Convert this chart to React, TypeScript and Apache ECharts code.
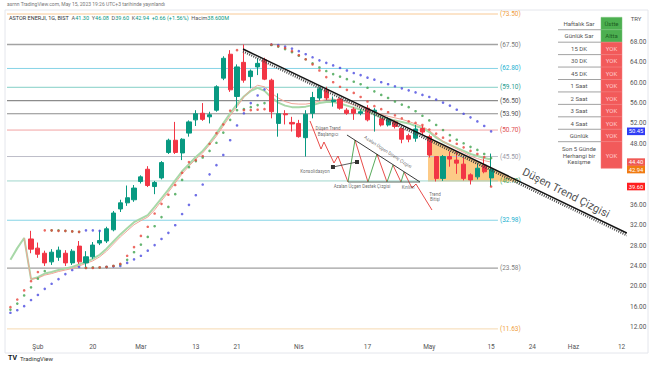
import React, { useEffect, useRef } from "react";
import * as echarts from "echarts";

// ---------- DATA ----------
const dates = [
  "2023-01-26", "2023-01-27", "2023-01-30", "2023-01-31",
  "2023-02-01", "2023-02-02", "2023-02-03", "2023-02-06", "2023-02-07",
  "2023-02-15", "2023-02-16", "2023-02-17", "2023-02-20", "2023-02-21", "2023-02-22",
  "2023-02-23", "2023-02-24", "2023-02-27", "2023-02-28",
  "2023-03-01", "2023-03-02", "2023-03-03", "2023-03-06", "2023-03-07", "2023-03-08",
  "2023-03-09", "2023-03-10", "2023-03-13", "2023-03-14", "2023-03-15", "2023-03-16",
  "2023-03-17", "2023-03-20", "2023-03-21", "2023-03-22", "2023-03-23", "2023-03-24",
  "2023-03-27", "2023-03-28", "2023-03-29", "2023-03-30", "2023-03-31",
  "2023-04-03", "2023-04-04", "2023-04-05", "2023-04-06", "2023-04-07", "2023-04-10",
  "2023-04-11", "2023-04-12", "2023-04-13", "2023-04-14", "2023-04-17", "2023-04-18",
  "2023-04-19", "2023-04-20", "2023-04-24", "2023-04-25", "2023-04-26", "2023-04-27",
  "2023-04-28",
  "2023-05-02", "2023-05-03", "2023-05-04", "2023-05-05", "2023-05-08", "2023-05-09",
  "2023-05-10", "2023-05-11", "2023-05-12", "2023-05-15", "2023-05-16", "2023-05-17",
  "2023-05-18", "2023-05-22", "2023-05-23", "2023-05-24", "2023-05-25", "2023-05-26",
  "2023-05-29", "2023-05-30", "2023-05-31",
  "2023-06-01", "2023-06-02", "2023-06-05", "2023-06-06", "2023-06-07", "2023-06-08",
  "2023-06-09", "2023-06-12",
];
const tickDates = [
  "2023-02-01", "2023-02-20", "2023-03-01", "2023-03-13", "2023-03-21", "2023-04-03",
  "2023-04-17", "2023-05-02", "2023-05-15", "2023-05-24", "2023-06-01", "2023-06-12",
];
const tickTexts = ["Şub", "20", "Mar", "13", "21", "Nis", "17", "May", "15", "24", "Haz", "12"];

const FIRST_CANDLE = 3;
const opens = [
  29.3, 27.5, 26.5, 24.8, 25.7, 26.5, 24.6, 27.9, 24.6, 25.8,
  28.5, 28.9, 31.1, 35.2, 36.4, 37.0, 40.6, 43.0, 39.6, 41.3,
  46.3, 48.7, 46.2, 50.1, 52.7, 54.0, 53.3, 54.6, 60.9, 65.6,
  57.3, 64.0, 61.2, 63.1, 64.5, 60.5, 52.0, 53.9, 52.2, 52.0,
  49.2, 54.0, 57.0, 58.6, 56.3, 56.8, 54.6, 54.8, 54.0, 55.0,
  54.3, 52.9, 51.7, 52.3, 51.0, 49.6, 49.1, 51.0, 49.4, 45.5,
  41.2, 45.5, 44.8, 44.0, 41.9, 41.5, 43.8, 41.3,
];
const closes = [
  27.3, 26.3, 24.6, 26.7, 27.1, 24.6, 26.9, 24.8, 25.8, 28.1,
  29.0, 31.3, 34.4, 36.4, 37.4, 39.3, 41.5, 39.8, 40.4, 44.3,
  48.7, 46.3, 48.9, 52.3, 53.9, 52.8, 53.7, 59.2, 64.8, 58.6,
  63.1, 60.5, 62.3, 63.8, 60.7, 54.3, 53.9, 53.7, 51.9, 49.4,
  53.8, 57.1, 58.8, 57.0, 56.6, 55.0, 54.0, 54.0, 54.3, 52.7,
  54.6, 51.7, 52.8, 51.4, 48.9, 48.9, 50.9, 50.3, 45.8, 41.2,
  45.5, 45.0, 44.2, 41.2, 40.9, 43.2, 42.5, 42.94,
];
const lows = [
  26.5, 25.6, 24.0, 24.2, 25.0, 24.0, 24.2, 24.4, 23.8, 25.4,
  28.1, 28.5, 30.8, 34.6, 35.8, 36.6, 40.2, 39.5, 38.1, 41.0,
  46.0, 46.0, 44.8, 49.4, 51.5, 52.5, 52.0, 54.3, 60.5, 58.2,
  55.0, 60.0, 58.9, 61.5, 60.5, 53.0, 49.4, 51.8, 50.4, 49.2,
  45.5, 53.0, 56.5, 56.6, 55.3, 54.7, 53.7, 52.7, 53.6, 52.4,
  50.4, 51.4, 51.4, 51.0, 48.1, 48.3, 48.4, 49.8, 45.3, 40.6,
  40.7, 43.5, 42.1, 40.8, 40.0, 41.0, 42.2, 39.6,
];
const highs = [
  30.9, 28.6, 27.0, 27.3, 27.8, 27.1, 27.3, 28.9, 26.9, 28.7,
  31.0, 31.7, 34.8, 37.0, 39.8, 39.9, 41.8, 43.6, 40.7, 44.6,
  49.0, 52.3, 49.1, 52.6, 54.6, 56.0, 54.3, 59.5, 65.2, 66.4,
  63.6, 67.5, 62.6, 64.8, 64.9, 60.8, 57.9, 54.6, 53.3, 52.7,
  54.6, 58.2, 59.2, 59.2, 57.3, 57.1, 55.0, 55.2, 54.8, 55.6,
  55.0, 53.2, 53.2, 52.6, 51.2, 50.0, 51.7, 51.6, 49.8, 45.6,
  45.8, 46.5, 46.5, 45.5, 42.2, 44.2, 45.1, 46.08,
];

const maGreen = [
  25.2, 27.5, 29.5, 21.4, 21.8, 22.5, 22.8, 23.2, 23.5, 23.8,
  24.3, 24.8, 25.4, 26.2, 27.4, 28.8, 30.2, 31.4, 32.6, 33.3,
  34.0, 35.6, 37.3, 39.0, 40.8, 42.6, 44.0, 45.4, 46.6, 48.2,
  50.0, 52.0, 54.0, 55.8, 57.3, 58.4, 59.0, 58.4, 57.1, 56.1,
  55.5, 55.2, 55.2, 55.3, 55.6, 56.0, 56.2, 56.2, 55.9, 55.5,
  55.1, 54.7, 54.3, 53.8, 53.2, 52.9, 52.6, 52.3, 52.0, 51.5,
  51.1, 50.3, 49.2, 48.4, 47.8, 47.2, 46.6, 46.0, 45.6, 45.2, 44.9,
];
const maSalmon = [
  null, null, 29.5, 21.4, 21.6, 22.2, 22.5, 22.9, 23.2, 23.5,
  24.0, 24.5, 25.0, 25.8, 26.9, 28.3, 29.7, 30.9, 32.1, 32.9,
  33.6, 35.0, 36.8, 38.5, 40.3, 42.1, 43.6, 45.0, 46.2, 47.8,
  49.5, 51.5, 53.5, 55.3, 57.2, 58.6, 59.5, 59.2, 58.0, 57.0,
  56.3, 55.9, 55.8, 55.8, 56.0, 56.4, 56.7, 56.8, 56.5, 56.1,
  55.7, 55.3, 54.9, 54.4, 53.8, 53.4, 53.1, 52.8, 52.4, 51.9,
  51.4, 50.6, 49.5, 48.5, 47.7, 47.0, 46.3, 45.6, 45.1, 44.7, 44.4,
];

const sarBlue = [
  14.8, 15.3, 16.1, 17.3, 18.3, 19.5, 20.5, 21.4, 22.4, 23.2,
  23.8, 31.0, 31.0, 30.9, 23.8, 23.9, 24.0, 24.6, 25.3, 26.0,
  27.0, 28.1, 29.3, 30.5, 32.0, 34.2, 36.0, 37.9, 40.0, 42.0,
  43.8, 45.8, 48.7, 51.6, 54.0, 56.0, 57.5, 58.7, 67.5, 67.4,
  67.1, 66.7, 66.2, 65.6, 65.0, 64.4, 63.9, 63.4, 62.9, 62.4,
  61.9, 61.5, 61.0, 60.6, 60.1, 59.7, 59.3, 58.9, 58.5, 58.1,
  57.6, 57.2, 56.7, 56.1, 55.5, 54.7, 53.9, 53.2, 52.4, 51.5, 50.45,
];
const sarGreen = [
  15.4, 16.6, 18.2, 19.8, 21.5, 23.0, 31.0, 31.0, 30.9, 30.8,
  30.7, 23.6, 23.7, 23.7, 23.8, 24.0, 24.3, 25.2, 26.7, 28.2,
  29.7, 31.8, 33.6, 35.6, 38.1, 40.9, 43.4, 44.6, 45.3, 46.6,
  48.2, 50.2, 52.7, 54.6, 54.8, 55.2, 55.6, 56.0, 67.4, 67.1,
  66.6, 66.0, 65.3, 64.6, 63.8, 63.0, 62.3, 61.7, 61.2, 60.7,
  60.2, 59.7, 59.0, 58.3, 57.6, 57.0, 56.3, 55.7, 55.2, 54.4,
  53.5, 52.6, 51.7, 50.7, 49.7, 48.8, 48.1, 47.4, 46.8, 46.0, 45.2,
];
const sarRed = [
  15.9, 17.4, 19.2, 21.0, 22.8, 31.0, 31.0, 30.9, 30.9, 30.8,
  30.7, 23.6, 23.6, 23.7, 23.8, 24.0, 24.4, 26.0, 27.7, 29.9,
  31.7, 34.3, 36.2, 38.0, 39.9, 42.3, 44.4, 44.8, 45.6, 48.0,
  50.1, 51.8, 54.5, 66.4, 54.6, 54.6, 54.7, 54.8, 67.5, 67.2,
  66.8, 66.2, 65.4, 64.6, 63.6, 62.4, 61.1, 60.1, 59.2, 58.6,
  58.0, 57.2, 56.3, 55.4, 54.8, 54.2, 53.6, 53.0, 52.4, 52.1,
  51.7, 50.8, 50.0, 49.2, 48.6, 48.0, 47.3, 46.6, 46.0, 45.4, 39.6,
];

const levelValues = [73.5, 67.5, 62.8, 59.1, 56.5, 53.9, 50.7, 45.5, 40.7, 32.98, 23.58, 11.63];
const levelLabels = ["(73.50)", "(67.50)", "(62.80)", "(59.10)", "(56.50)", "(53.90)", "(50.70)", "(45.50)", "(40.70)", "(32.98)", "(23.58)", "(11.63)"];
const levelEndIndex = 71.0;

const yTickHidden = [44, 40];
const tagValues = [50.45, 44.4, 42.94, 39.6];

const trendLine = [[33.87, 66.62], [89.79, 30.47]];
const orangeZone = [[60.81, 49.3], [74.2, 40.6], [60.81, 40.6]];

const redPaths = [
  [[43.63, 52.48], [45.23, 46.97], [45.66, 48.35], [47.12, 44.23], [47.7, 45.6], [49.16, 40.49]],
  [[50.18, 48.74], [52.07, 40.49]],
  [[53.38, 45.99], [54.84, 40.49]],
  [[55.71, 43.83], [56.88, 40.49]],
  [[57.32, 42.45], [58.48, 39.31], [59.06, 40.1], [61.39, 34.99]],
];
const greenPaths = [
  [[49.16, 40.49], [50.18, 48.74]],
  [[52.07, 40.49], [53.38, 45.99]],
  [[54.84, 40.49], [55.71, 43.83]],
  [[56.88, 40.49], [57.32, 42.45]],
];
const triangleTop = [[49.01, 49.73], [59.65, 40.49]];
const triangleBase = [[49.16, 40.49], [59.65, 40.49]];
const arrowPath = [[46.97, 43.44], [50.47, 44.42]];

const noteTexts = [
  "Düşen Trend", "Başlangıcı", "Konsolidasyon", "Azalan Üçgen Destek Çizgisi",
  "Kırılım", "Trend", "Bitişi", "Azalan Üçgen Direnç Çizgisi", "Düşen Trend Çizgisi",
];
const notePoints = [
  [46.25, 51.1], [46.25, 49.92], [44.35, 42.65], [51.2, 39.7],
  [57.9, 39.5], [61.83, 38.13], [61.83, 37.15], [54.98, 46.38], [80.91, 38.33],
];

const tableLabels = [
  "Haftalık Sar", "Günlük Sar", "15 DK", "30 DK", "45 DK", "1 Saat", "2 Saat",
  "3 Saat", "4 Saat", "Günlük", "Son 5 Günde\nHerhangi bir\nKesişme",
];
const tableValues = ["Üstte", "Altta", "YOK", "YOK", "YOK", "YOK", "YOK", "YOK", "YOK", "YOK", "YOK"];
const tablePositive = [true, true, false, false, false, false, false, false, false, false, false];

// ---------- STYLES ----------
const FONT = "Roboto, 'Noto Sans', sans-serif";
const levelLineColors = ["#f8c995", "#a3a3a3", "#86d4e6", "#84cfc6", "#8c8c8c", "#8c8c8c", "#f2a3a3", "#bdbdc9", "#9fd6cc", "#86d4e6", "#a0a0a0", "#f6d9b0"];
const levelTextColors = ["#f0a040", "#7a7a7a", "#22b0d0", "#2a9d8f", "#555555", "#555555", "#e05050", "#9a9aa8", "#3aa15b", "#22b0d0", "#808080", "#f0a040"];
const levelWidths = [1, 1.5, 1, 1, 1.2, 1.2, 1, 1, 1, 1, 1.2, 1];
const tagColors = ["#2f3df5", "#f05a55", "#f07b12", "#ff1f1f"];
const noteSizes = [4.5, 4.5, 4.5, 4.5, 4.5, 4.5, 4.5, 4.5, 11];
const noteRotations = [0, 0, 0, 0, 0, 0, 0, -33, -27];
const noteColors = ["#444", "#444", "#444", "#444", "#444", "#444", "#444", "#444", "#222"];

export default function App() {
  const ref = useRef<HTMLDivElement>(null);

  useEffect(() => {
    if (!ref.current) return;
    const chart = echarts.init(ref.current, null, { renderer: "svg" });

    const candleData = dates.map((_, i) => {
      const k = i - FIRST_CANDLE;
      return k >= 0 && k < opens.length ? [opens[k], closes[k], lows[k], highs[k]] : "-";
    });
    const dotSeries = (vals: number[], color: string) => ({
      type: "scatter",
      xAxisIndex: 0,
      yAxisIndex: 0,
      symbolSize: 2.6,
      itemStyle: { color },
      data: vals.map((v, i) => [i, v]),
      z: 4,
      silent: true,
    });
    const pathSeries = (pts: number[][], color: string, width: number, extra: any = {}) => ({
      type: "line",
      xAxisIndex: 1,
      yAxisIndex: 0,
      data: pts,
      symbol: "none",
      lineStyle: { color, width },
      clip: false,
      silent: true,
      z: 5,
      ...extra,
    });

    const series: any[] = [];
    series.push({
      type: "custom",
      xAxisIndex: 1,
      yAxisIndex: 0,
      z: 1,
      silent: true,
      clip: false,
      data: [orangeZone[0]],
      renderItem: (_p: any, api: any) => ({
        type: "polygon",
        shape: { points: orangeZone.map((p) => api.coord(p)) },
        style: { fill: "rgba(252,170,60,0.62)" },
      }),
    });
    levelValues.forEach((v, k) => {
      series.push({
        type: "line",
        xAxisIndex: 1,
        yAxisIndex: 0,
        data: [[-0.5, v], [levelEndIndex, v]],
        symbol: "none",
        silent: true,
        z: 1,
        lineStyle: { color: levelLineColors[k], width: levelWidths[k] },
        endLabel: {
          show: true,
          formatter: levelLabels[k],
          color: levelTextColors[k],
          fontSize: 6.5,
          fontFamily: FONT,
          distance: 2,
        },
      });
    });
    series.push({
      type: "line",
      data: maGreen,
      symbol: "none",
      lineStyle: { color: "#a8d8a8", width: 2 },
      z: 2,
      silent: true,
      connectNulls: false,
    });
    series.push({
      type: "line",
      data: maSalmon,
      symbol: "none",
      lineStyle: { color: "#f0a596", width: 1 },
      z: 2,
      silent: true,
      connectNulls: false,
    });
    series.push({
      type: "candlestick",
      data: candleData,
      barWidth: 4.6,
      z: 3,
      silent: true,
      itemStyle: {
        color: "#089981",
        color0: "#f23645",
        borderColor: "#089981",
        borderColor0: "#f23645",
        borderWidth: 1,
      },
    });
    series.push(dotSeries(sarBlue, "#4b4be0"));
    series.push(dotSeries(sarGreen, "#3fa34d"));
    series.push(dotSeries(sarRed, "#e8453c"));

    // trend line with hatched shadow
    series.push(pathSeries(trendLine.map((p) => [p[0], p[1] - 0.45]), "#444", 2.4, { lineStyle: { color: "#444", width: 2.4, type: [1, 1.3] } }));
    series.push(pathSeries(trendLine, "#111", 1.5));
    // pattern drawing
    redPaths.forEach((p) => series.push(pathSeries(p, "#e53935", 0.9)));
    greenPaths.forEach((p) => series.push(pathSeries(p, "#43a047", 0.9)));
    series.push(pathSeries(triangleTop, "#222", 0.9));
    series.push(pathSeries(triangleBase, "#4d5d52", 0.9));
    series.push(pathSeries(arrowPath, "#333", 0.8, { symbol: ["none", "arrow"], symbolSize: 4, itemStyle: { color: "#333" } }));

    series.push({
      type: "scatter",
      xAxisIndex: 1,
      yAxisIndex: 0,
      symbolSize: 0.1,
      itemStyle: { color: "rgba(0,0,0,0)" },
      silent: true,
      z: 6,
      data: noteTexts.map((t, k) => ({
        name: t,
        value: notePoints[k],
        label: {
          show: true,
          position: "inside",
          formatter: "{b}",
          rotate: noteRotations[k],
          fontSize: noteSizes[k],
          color: noteColors[k],
          fontFamily: FONT,
        },
      })),
    });

    chart.setOption({
      animation: false,
      backgroundColor: "#ffffff",
      grid: { left: 7, top: 1.28, width: 618, height: 346.1 },
      xAxis: [
        {
          type: "category",
          data: dates,
          boundaryGap: true,
          offset: -10,
          axisLine: { show: false },
          axisTick: { show: false },
          splitLine: { show: false },
          axisLabel: {
            interval: (_i: number, v: string) => tickDates.includes(v),
            formatter: (v: string) => tickTexts[tickDates.indexOf(v)] ?? "",
            color: "#555",
            fontSize: 6.5,
            fontFamily: FONT,
            margin: 6,
            hideOverlap: false,
          },
        },
        { type: "value", min: -0.5, max: 89.5, show: false },
      ],
      yAxis: {
        type: "value",
        position: "right",
        min: 8,
        max: 76,
        interval: 4,
        axisLine: { show: false },
        axisTick: { show: false },
        splitLine: { show: false },
        axisLabel: {
          margin: 5,
          color: "#555",
          fontSize: 6.5,
          fontFamily: FONT,
          formatter: (v: number) =>
            v >= 12 && v <= 68 && !yTickHidden.includes(v) ? v.toFixed(2) : "",
        },
      },
      series,
    });

    // ---------- graphics ----------
    const g: any[] = [];
    g.push({
      type: "rect",
      shape: { x: 5, y: 10, width: 643, height: 343 },
      style: { fill: "none", stroke: "#e4e6ec", lineWidth: 1 },
      silent: true,
    });
    g.push({
      type: "text",
      x: 7,
      y: 4,
      style: {
        text: "asrnn TradingView.com, May 15, 2023 19:26 UTC+3 tarihinde yayınlandı",
        fill: "#777",
        fontSize: 5,
        fontFamily: FONT,
        verticalAlign: "middle",
      },
    });
    g.push({
      type: "text",
      x: 9,
      y: 18,
      style: {
        text:
          "{n|ASTOR ENERJI, 1G, BIST}  {l|A}{v|41.30}  {l|Y}{v|46.08}  {l|D}{v|39.60}  {l|K}{v|42.94}  {v|+0.66 (+1.56%)}  {l|Hacim}{v|38.600M}",
        fontSize: 5.5,
        fontFamily: FONT,
        verticalAlign: "middle",
        rich: {
          n: { fill: "#333", fontSize: 5.5, fontFamily: FONT },
          l: { fill: "#555", fontSize: 5.5, fontFamily: FONT },
          v: { fill: "#089981", fontSize: 5.5, fontFamily: FONT },
        },
      },
    });
    g.push({
      type: "text",
      x: 636,
      y: 18,
      style: { text: "TRY", fill: "#555", fontSize: 6, fontFamily: FONT, align: "center", verticalAlign: "middle" },
    });
    g.push({
      type: "text",
      x: 8,
      y: 358,
      style: { text: "TV", fill: "#131722", fontSize: 7, fontWeight: "bold", fontFamily: FONT, verticalAlign: "middle" },
    });
    g.push({
      type: "text",
      x: 20,
      y: 358,
      style: { text: "TradingView", fill: "#333", fontSize: 6, fontFamily: FONT, verticalAlign: "middle" },
    });

    // table
    const colL = 558, colLW = 42, colV = 601, colVW = 21;
    const rowTop = 17.3, rowH = 12.44, lastRowH = 26.6;
    tableLabels.forEach((lab, r) => {
      const y = rowTop + r * rowH;
      const h = r === tableLabels.length - 1 ? lastRowH : rowH;
      const pos = tablePositive[r];
      g.push({
        type: "rect",
        shape: { x: colV, y, width: colVW, height: h },
        style: { fill: pos ? "#4caf50" : "#f25a5a", stroke: pos ? "#74c277" : "#f47c7c", lineWidth: 0.5 },
      });
      g.push({
        type: "text",
        x: colL + colLW / 2,
        y: y + h / 2,
        style: { text: lab, fill: "#555", fontSize: 6, fontFamily: FONT, align: "center", verticalAlign: "middle", lineHeight: 6.5 },
      });
      g.push({
        type: "text",
        x: colV + colVW / 2,
        y: y + h / 2,
        style: { text: tableValues[r], fill: pos ? "#1d5e22" : "#ffcfcf", fontSize: 6, fontFamily: FONT, align: "center", verticalAlign: "middle" },
      });
      if (r < tableLabels.length - 1) {
        g.push({
          type: "line",
          shape: { x1: colL, y1: y + h, x2: colV, y2: y + h },
          style: { stroke: "#8a8a8a", lineWidth: 0.8 },
        });
      }
    });

    // price tags on the axis
    tagValues.forEach((t, k) => {
      const py = chart.convertToPixel({ yAxisIndex: 0 }, t) as number;
      g.push({
        type: "rect",
        shape: { x: 627, y: py - 3.8, width: 18, height: 7.6 },
        style: { fill: tagColors[k] },
      });
      g.push({
        type: "text",
        x: 636,
        y: py,
        style: { text: t.toFixed(2), fill: "#fff", fontSize: 5.8, fontFamily: FONT, align: "center", verticalAlign: "middle" },
      });
    });

    chart.setOption({ graphic: g });

    return () => chart.dispose();
  }, []);

  return (
    <div
      ref={ref}
      style={{ position: "fixed", left: 0, top: 0, width: 654, height: 366, background: "#fff" }}
    />
  );
}
